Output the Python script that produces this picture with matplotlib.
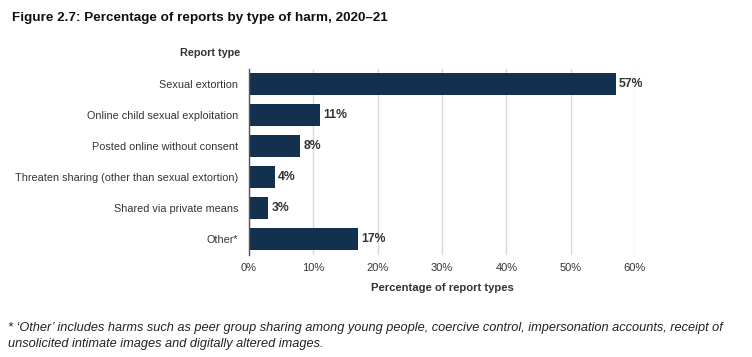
import matplotlib
matplotlib.use("Agg")
import matplotlib.pyplot as plt
from matplotlib.ticker import FuncFormatter

categories = ["Sexual extortion", "Online child sexual exploitation", "Posted online without consent",
              "Threaten sharing (other than sexual extortion)", "Shared via private means", "Other*"]
values = [57, 11, 8, 4, 3, 17]
xticks = [0, 10, 20, 30, 40, 50, 60]

plt.rcParams['font.family'] = ['Liberation Sans', 'DejaVu Sans']
fig = plt.figure(figsize=(7.52, 3.57), dpi=100)
ax = fig.add_axes([249/752, 1-254.5/357, (635-249)/752, 186/357])

ypos = list(range(len(categories)))
ax.barh(ypos, values, height=0.72, color="#13304f", zorder=3)
for y, v in zip(ypos, values):
    ax.text(v + 0.5, y, f"{v}%", va="center", ha="left", fontsize=8.8, fontweight="bold", color="#333333")
ax.set_yticks(ypos)
ax.set_yticklabels(categories, fontsize=7.8, color="#333333")
ax.set_ylim(len(categories) - 0.5, -0.5)
ax.set_xlim(0, 60)
ax.set_xticks(xticks)
ax.xaxis.set_major_formatter(FuncFormatter(lambda v, p: f"{int(v)}%"))
ax.tick_params(axis="x", labelsize=8, colors="#333333", length=0, pad=6)
ax.tick_params(axis="y", length=0, pad=8)
ax.grid(axis="x", color="#d9d9d9", linewidth=1, zorder=0)
for s in ["top", "right", "bottom"]:
    ax.spines[s].set_visible(False)
ax.spines["left"].set_color("#555555")
ax.spines["left"].set_linewidth(1)
ax.spines["left"].set_zorder(4)
ax.set_xlabel("Percentage of report types", fontsize=8.1, fontweight="bold", color="#333333", labelpad=7)

fig.text(240/752, 1-53/357, "Report type", ha="right", va="center", fontsize=7.8, fontweight="bold", color="#333333")
fig.text(12/752, 1-18/357, "Figure 2.7: Percentage of reports by type of harm, 2020\u201321", ha="left", va="center",
         fontsize=9.7, fontweight="bold", color="#111111")
fig.text(8/752, 1-328/357, "* \u2018Other\u2019 includes harms such as peer group sharing among young people, coercive control, impersonation accounts, receipt of",
         ha="left", va="center", fontsize=9.2, style="italic", color="#222222")
fig.text(8/752, 1-344/357, "unsolicited intimate images and digitally altered images.",
         ha="left", va="center", fontsize=9.2, style="italic", color="#222222")

fig.savefig("out.png", dpi=100)
